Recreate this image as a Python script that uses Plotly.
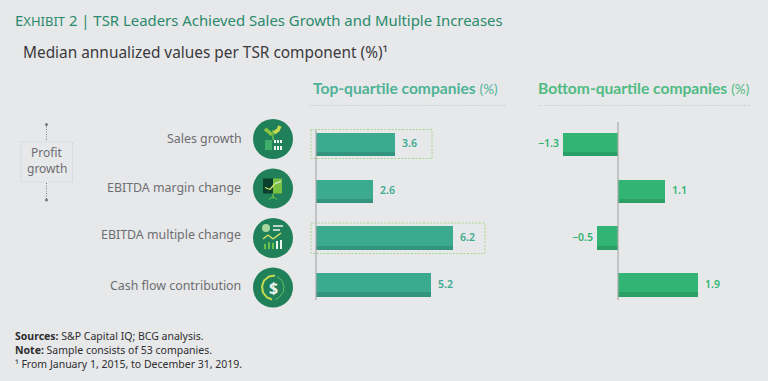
import plotly.graph_objects as go

W, H = 768, 381
BG = "#e7e8ea"
categories = ["Sales growth", "EBITDA margin change", "EBITDA multiple change", "Cash flow contribution"]
top_values = [3.6, 2.6, 6.2, 5.2]
bottom_values = [-1.3, 1.1, -0.5, 1.9]
top_labels = ["3.6", "2.6", "6.2", "5.2"]
bottom_labels = ["\u22121.3", "1.1", "\u22120.5", "1.9"]
TOP_C, TOP_D = "#3caa8f", "#33957d"
BOT_C, BOT_D = "#32b574", "#2c9f66"
FONT = "Noto Sans"


def px(x):
    return x / W


def py(y):
    return 1 - y / H


fig = go.Figure()
shapes = []
annotations = []

for vals, labels, c, d, ax in [
    (top_values, top_labels, TOP_C, TOP_D, "1"),
    (bottom_values, bottom_labels, BOT_C, BOT_D, "2"),
]:
    xa = "x" if ax == "1" else "x2"
    ya = "y" if ax == "1" else "y2"
    fig.add_trace(go.Bar(y=categories, x=vals, orientation="h", width=0.5, marker_color=c,
                         marker_line_width=0, xaxis=xa, yaxis=ya, showlegend=False))
    fig.add_trace(go.Bar(y=categories, x=vals, orientation="h", width=0.09, offset=0.16, marker_color=d,
                         marker_line_width=0, xaxis=xa, yaxis=ya, showlegend=False))
    for v, lab, cat in zip(vals, labels, categories):
        annotations.append(dict(xref=xa, yref=ya, x=v, y=cat, text=lab, showarrow=False,
                                xanchor="left" if v >= 0 else "right", yanchor="middle",
                                xshift=5 if v >= 0 else -2, yshift=1,
                                font=dict(family=FONT, size=10.5, color=c, weight=600)))


def text(x, y, s, size, color, anchor="left", weight=None, family=FONT):
    annotations.append(dict(xref="paper", yref="paper", x=px(x), y=py(y), text=s, showarrow=False,
                            xanchor=anchor, yanchor="middle", align=anchor,
                            font=dict(family=family, size=size, color=color, weight=weight),
                            borderpad=0))


def line(x0, y0, x1, y1, color, width=1, dash=None):
    shapes.append(dict(type="line", xref="paper", yref="paper", x0=px(x0), y0=py(y0), x1=px(x1), y1=py(y1),
                       line=dict(color=color, width=width, dash=dash), layer="above"))


def rect(x0, y0, x1, y1, fill=None, color=None, width=0, dash=None):
    shapes.append(dict(type="rect", xref="paper", yref="paper", x0=px(x0), y0=py(y0), x1=px(x1), y1=py(y1),
                       fillcolor=fill or "rgba(0,0,0,0)",
                       line=dict(color=color or "rgba(0,0,0,0)", width=width, dash=dash), layer="above"))


def circle(cx, cy, r, fill):
    shapes.append(dict(type="circle", xref="paper", yref="paper", x0=px(cx - r), y0=py(cy - r), x1=px(cx + r),
                       y1=py(cy + r), fillcolor=fill, line=dict(width=0), layer="above"))


def poly(cx, cy, pts, color, width):
    path = " ".join(f"{'M' if i == 0 else 'L'} {px(cx + a)} {py(cy + b)}" for i, (a, b) in enumerate(pts))
    shapes.append(dict(type="path", xref="paper", yref="paper", path=path,
                       line=dict(color=color, width=width), layer="above"))


# Titles
TITLE_C = "#2a8a6c"
text(14, 20.5, 'E<span style="font-size:13px">XHIBIT</span> 2 | TSR Leaders Achieved Sales Growth and Multiple Increases',
     14.9, TITLE_C)
text(22, 52.5, "Median annualized values per TSR component (%)\u00b9", 15.4, "#3a3a3c")
text(312, 88, '<b>Top-quartile companies</b> <span style="font-size:13.5px">(%)</span>', 15.6, "#4fb398", family="Lato")
text(537, 88, '<b>Bottom-quartile companies</b> <span style="font-size:13.5px">(%)</span>', 15.6, "#4fbb83", family="Lato")
line(309, 105.5, 506, 105.5, "#c6c7c9", 1.2, "1px,1.5px")
line(539, 105.5, 751, 105.5, "#c6c7c9", 1.2, "1px,1.5px")

# Row labels
LABEL = "#6d6e71"
for s, y, rx in zip(categories, [138.5, 187.5, 234, 285.5], [243, 242, 242, 242]):
    text(rx, y, s, 12.4, LABEL, "right")

# Profit growth box
rect(21, 142, 72.5, 182, None, "#c9cacc", 1, "1px,1.5px")
text(46.5, 153, "Profit", 12, LABEL, "center")
text(46.5, 169, "growth", 12, LABEL, "center")
line(46.5, 124, 46.5, 141, "#77787b", 1, "1px,1.5px")
line(46.5, 183, 46.5, 200, "#77787b", 1, "1px,1.5px")
circle(46.5, 124.5, 1.5, "#77787b")
circle(46.5, 200, 1.5, "#77787b")

# Highlight boxes
rect(311, 129.5, 432, 158.5, None, "#a6d68f", 1, "2px,1.5px")
rect(311, 223, 485, 253.5, None, "#a6d68f", 1, "2px,1.5px")

# Zero lines
line(316, 130, 316, 300, "#a9aaac", 1.2)
line(618, 122, 618, 300, "#a9aaac", 1.2)

# Icons
ICON = "#1f8059"
LIGHT = "#6cc24a"
WHITE = "#eef3ee"
centres = [(273, 139), (273, 188.5), (273, 238), (273, 287.5)]
for cx, cy in centres:
    circle(cx, cy, 20, ICON)

# sprout
cx, cy = centres[0]
line(cx, cy - 9, cx, cy + 1, LIGHT, 1.5)
poly(cx, cy, [(-8, -10), (-4, -7), (-1, -4)], "#8cc63f", 3.5)
poly(cx, cy, [(1, -6), (5, -9), (7, -13)], "#c9dc4e", 3.5)
rect(cx - 8, cy + 1, cx - 1, cy + 11, "#3fae6b")
for dx in (1, 4, 7):
    rect(cx + dx, cy + 1, cx + dx + 2, cy + 4, WHITE)
    rect(cx + dx, cy + 7, cx + dx + 2, cy + 11, WHITE)

# presentation board
cx, cy = centres[1]
rect(cx - 10, cy - 10, cx, cy + 5, "#0b3f2e")
rect(cx, cy - 10, cx + 9, cy + 5, "#7ac143")
line(cx - 8, cy - 1, cx - 3, cy + 1, "#d7e36a", 1.3)
line(cx - 3, cy + 1, cx + 2, cy - 5, "#d7e36a", 1.3)
line(cx + 2, cy - 5, cx + 8, cy - 7, WHITE, 1.3)
line(cx, cy + 5, cx, cy + 10, LIGHT, 1.2)
line(cx, cy + 8, cx - 4, cy + 11, LIGHT, 1)
line(cx, cy + 8, cx + 4, cy + 11, LIGHT, 1)

# analytics
cx, cy = centres[2]
circle(cx - 7, cy - 10, 4, "#a8d8a0")
line(cx, cy - 12, cx + 10, cy - 12, WHITE, 1.5)
line(cx, cy - 8, cx + 7, cy - 8, WHITE, 1.5)
line(cx - 10, cy + 1, cx - 5, cy - 3, "#d7e36a", 1.5)
line(cx - 5, cy - 3, cx, cy + 1, "#d7e36a", 1.5)
line(cx, cy + 1, cx + 8, cy - 5, "#d7e36a", 1.5)
for dx, top in [(-9, 6), (-5, 4), (-1, 5), (3, 3), (7, 2)]:
    rect(cx + dx, cy + top, cx + dx + 2, cy + 11, LIGHT if dx < 3 else WHITE)

# dollar
cx, cy = centres[3]
poly(cx, cy, [(2, -12), (-4, -11), (-9, -7), (-11, -1), (-10, 5), (-6, 10), (-1, 12)], "#c5dc4f", 2)
poly(cx, cy, [(4, -11), (9, -7), (11, -1), (10, 5), (6, 10), (2, 12)], "#5fbf63", 1)
text(cx, cy, "<b>$</b>", 16, WHITE, "center")

# Footer
FOOT = "#2e2e30"
text(14, 335.5, "<b>Sources:</b> S&amp;P Capital IQ; BCG analysis.", 10.5, FOOT)
text(14, 349.5, "<b>Note:</b> Sample consists of 53 companies.", 10.5, FOOT)
text(14, 363.5, "\u00b9 From January 1, 2015, to December 31, 2019.", 10.5, FOOT)

fig.update_layout(
    width=W, height=H, margin=dict(l=0, r=0, t=0, b=0), paper_bgcolor=BG, plot_bgcolor=BG,
    barmode="overlay", bargap=0, showlegend=False, shapes=shapes, annotations=annotations,
    xaxis=dict(domain=[px(300), px(520)], range=[(300 - 315.7) / 22.12, (520 - 315.7) / 22.12], visible=False),
    xaxis2=dict(domain=[px(525), px(760)], range=[(525 - 618) / 42.3, (760 - 618) / 42.3], visible=False),
    yaxis=dict(domain=[py(308), py(120.6)], range=[3.5, -0.5], visible=False, categoryorder="array",
               categoryarray=categories),
    yaxis2=dict(domain=[py(308), py(120.6)], range=[3.5, -0.5], visible=False, categoryorder="array",
                categoryarray=categories, anchor="x2"),
)
fig.write_html("out.html", config=dict(displayModeBar=False),
               post_script="document.body.style.margin='0';document.body.style.background='%s';"
                           "document.body.style.overflow='hidden';" % BG)
